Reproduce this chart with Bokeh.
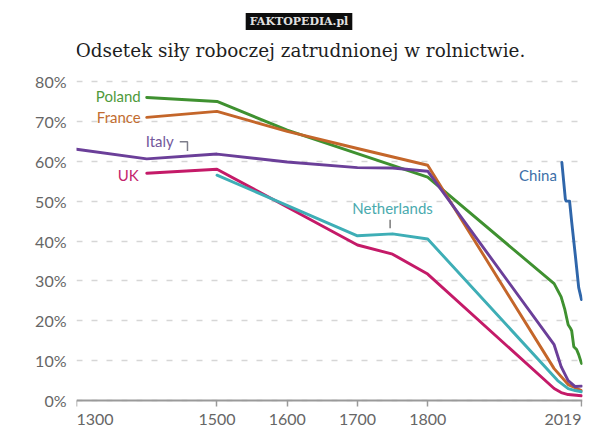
from bokeh.plotting import figure
from bokeh.models import Label, FixedTicker, PrintfTickFormatter, Range1d
from bokeh.embed import file_html
from bokeh.resources import INLINE

TITLE = "Odsetek siły roboczej zatrudnionej w rolnictwie."
WATERMARK = "FAKTOPEDIA.pl"

X_TICKS = [1300, 1500, 1600, 1700, 1800, 2019]
Y_TICKS = [0, 10, 20, 30, 40, 50, 60, 70, 80]

poland_years = [1400, 1500, 1600, 1800, 1980, 1990, 1995, 2000, 2003, 2005, 2008, 2012, 2015, 2019]
poland_share = [76, 75, 67.8, 56, 29.3, 26, 23, 19, 18.2, 17.5, 13.5, 12.8, 11.5, 9.3]

france_years = [1400, 1500, 1600, 1700, 1800, 1980, 2000, 2010, 2019]
france_share = [71, 72.5, 67.5, 63.2, 59.0, 8, 4, 3.2, 2.5]

italy_years = [1300, 1400, 1500, 1600, 1700, 1750, 1800, 1980, 1990, 2000, 2010, 2019]
italy_share = [63, 60.6, 61.8, 59.8, 58.4, 58.3, 57.5, 14, 8.5, 5, 3.5, 3.6]

uk_years = [1400, 1500, 1700, 1750, 1800, 1980, 1990, 2000, 2019]
uk_share = [57, 58, 39, 36.7, 31.7, 3, 2, 1.5, 1.2]

nl_years = [1500, 1700, 1750, 1800, 1985, 2000, 2010, 2019]
nl_share = [56.5, 41.3, 41.8, 40.5, 5, 3, 2.5, 2.2]

china_years = [1991, 1996, 1997, 2002, 2005, 2010, 2015, 2019]
china_share = [59.7, 50.5, 50.0, 50.0, 44.8, 36.7, 28.3, 25.3]

names = ["Poland", "France", "Italy", "UK", "Netherlands", "China"]
colors = ["#3f9130", "#c4662a", "#6b3f99", "#c41a68", "#3eaeb6", "#2f66aa"]
label_colors = ["#4f9a3c", "#c26d30", "#74589c", "#c4246c", "#4aaaae", "#3d6fa8"]
series_x = [poland_years, france_years, italy_years, uk_years, nl_years, china_years]
series_y = [poland_share, france_share, italy_share, uk_share, nl_share, china_share]

# label anchors (data units) and alignment
label_x = [1400, 1400, 1400, 1400, 1750, 1991]
label_y = [76.3, 71.1, 65.0, 56.6, 48.4, 56.6]
label_align = ["right", "right", "left", "right", "center", "right"]
label_dx = [-6, -6, -1, -8, 0, -5]

# leader marks
italy_leader_x = [1447.0, 1458.0, 1458.0]
italy_leader_y = [64.9, 64.9, 62.6]
nl_leader_x = [1746.5, 1746.5]
nl_leader_y = [45.3, 43.2]

FONT = "Lato"
TICK_LABEL_Y = -4.8

p = figure(width=600, height=443, output_backend="svg", toolbar_location=None,
           x_range=Range1d(1300, 2020.4), y_range=Range1d(-10.78, 100.31),
           min_border_left=76, min_border_right=18, min_border_top=0, min_border_bottom=0)
p.title = None
p.outline_line_color = None
p.background_fill_color = "white"
p.border_fill_color = "white"

p.xgrid.visible = False
p.ygrid.ticker = FixedTicker(ticks=Y_TICKS)
p.ygrid.grid_line_color = "#d6d6d6"
p.ygrid.grid_line_dash = "6 9"
p.ygrid.grid_line_width = 1.3

p.yaxis.ticker = FixedTicker(ticks=Y_TICKS)
p.yaxis.formatter = PrintfTickFormatter(format="%d%%")
p.yaxis.axis_line_color = None
p.yaxis.major_tick_line_color = None
p.yaxis.minor_tick_line_color = None
p.yaxis.major_tick_out = 0
p.yaxis.major_tick_in = 0
p.yaxis.major_label_standoff = 10
p.yaxis.major_label_text_font = FONT
p.yaxis.major_label_text_font_size = "16px"
p.yaxis.major_label_text_color = "#666666"

p.xaxis.fixed_location = 0
p.xaxis.ticker = FixedTicker(ticks=X_TICKS)
p.xaxis.axis_line_color = "#9a9a9a"
p.xaxis.axis_line_width = 2
p.xaxis.major_tick_line_color = "#9a9a9a"
p.xaxis.major_tick_line_width = 1.5
p.xaxis.major_tick_out = 6
p.xaxis.major_tick_in = 0
p.xaxis.minor_tick_line_color = None
p.xaxis.major_label_text_color = None

for i, tx in enumerate(X_TICKS):
    align = "left" if i == 0 else ("right" if i == len(X_TICKS) - 1 else "center")
    p.add_layout(Label(x=tx, y=TICK_LABEL_Y, text=str(tx), text_align=align,
                       text_baseline="middle", text_font=FONT,
                       text_font_size="16px", text_color="#666666"))

for xs, ys, c in zip(series_x, series_y, colors):
    p.line(xs, ys, line_color=c, line_width=2.9, line_join="round", line_cap="round")

for n, c, lx, ly, al, dx in zip(names, label_colors, label_x, label_y, label_align, label_dx):
    p.add_layout(Label(x=lx, y=ly, x_offset=dx, text=n, text_align=al, text_baseline="middle",
                       text_font=FONT, text_font_size="15px", text_color=c))

p.line(italy_leader_x, italy_leader_y, line_color="#7d7d8a", line_width=1.5)
p.line(nl_leader_x, nl_leader_y, line_color="#7a7a7a", line_width=1.5)

# title and watermark (screen units, relative to the plot frame)
p.add_layout(Label(x=224, y=393, x_units="screen", y_units="screen", text=TITLE,
                   text_align="center", text_baseline="middle", text_font="DejaVu Serif",
                   text_font_size="18.4px", text_color="#1e1e1e"))
p.add_layout(Label(x=222.5, y=422, x_units="screen", y_units="screen", text=WATERMARK,
                   text_align="center", text_baseline="middle", text_font="DejaVu Serif",
                   text_font_style="bold", text_font_size="11px", text_color="#e0e0e0",
                   background_fill_color="#0d0d0d", padding=(4, 2)))

open("out.html", "w").write(file_html(p, INLINE))
